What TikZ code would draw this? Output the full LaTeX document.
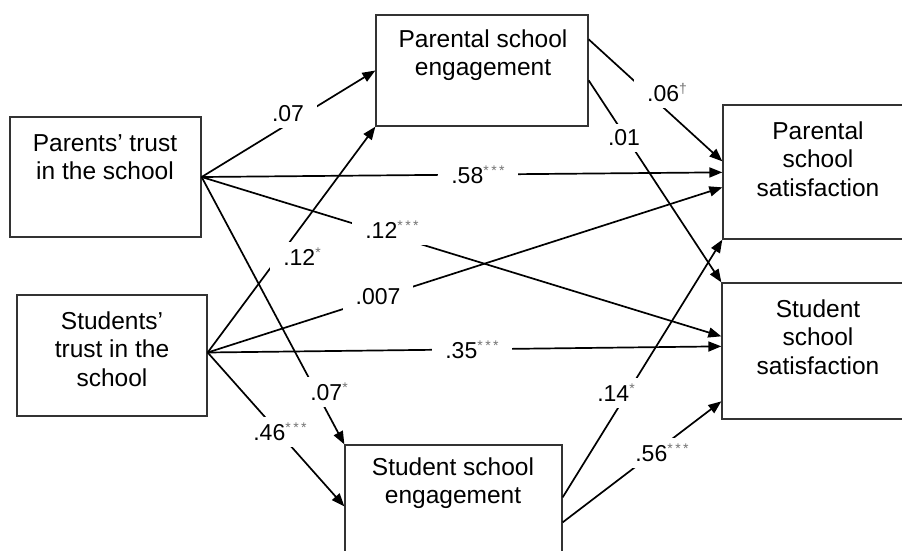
\documentclass[tikz,border=0pt]{standalone}
\usepackage{fontspec}
\setmainfont{Liberation Sans}
\usetikzlibrary{arrows.meta}
\newcommand\sigmark[1]{\raisebox{8pt}{\fontsize{14}{14}\selectfont\textcolor{black!55}{#1}}}
\newcommand\threestars{\sigmark{*\kern2.5pt*\kern2.5pt*}}
\begin{document}
\begin{tikzpicture}[x=1pt,y=-1pt,
  boxnode/.style={draw=black!80,line width=1.3pt,inner sep=0pt},
  txt/.style={align=center,font=\fontsize{24.5}{28.5}\selectfont},
  lab/.style={fill=white,inner xsep=13pt,inner ysep=6pt,font=\fontsize{23}{26}\selectfont},
  arr/.style={line width=1.7pt,-{Triangle[length=13pt,width=10pt]}}]
\useasboundingbox (0,0) rectangle (902,551);
% boxes
\node[boxnode,minimum width=191pt,minimum height=120pt] (pt) at (105.5,177) {};
\node[boxnode,minimum width=190pt,minimum height=121pt] (st) at (112,355.5) {};
\node[boxnode,minimum width=212pt,minimum height=111pt] (pse) at (482,70.5) {};
\node[boxnode,minimum width=192pt,minimum height=134pt] (pss) at (819,172) {};
\node[boxnode,minimum width=193pt,minimum height=136pt] (sss) at (818.5,351) {};
\node[boxnode,minimum width=217pt,minimum height=155pt] (sse) at (453.5,522.5) {};
% texts
\node[txt] (ptt) at (105,157) {Parents’ trust\\in the school};
\node[txt] (stt) at (112,349) {Students’\\trust in the\\school};
\node[txt] (pset) at (483,55) {Parental school\\engagement};
\node[txt] (psst) at (818,159) {Parental\\school\\satisfaction};
\node[txt] (ssst) at (818,337) {Student\\school\\satisfaction};
\node[txt] (sset) at (453,483) {Student school\\engagement};
% arrows
\draw[arr] (pt.east) -- (pse.west);
\draw[arr] (pt.east) -- ([yshift=-68pt]pss.north west);
\draw[arr] (pt.east) -- ([yshift=-54pt]sss.north west);
\draw[arr] (pt.east) -- (sse.north west);
\draw[arr] ([yshift=3pt]st.east) -- (pse.south west);
\draw[arr] ([yshift=3pt]st.east) -- ([yshift=-83pt]pss.north west);
\draw[arr] ([yshift=3pt]st.east) -- ([yshift=-64pt]sss.north west);
\draw[arr] ([yshift=3pt]st.east) -- ([yshift=-62pt]sse.north west);
\draw[arr] ([yshift=-25pt]pse.north east) -- ([yshift=-57pt]pss.north west);
\draw[arr] ([yshift=-66pt]pse.north east) -- (sss.north west);
\draw[arr] ([yshift=-53pt]sse.north east) -- (pss.south west);
\draw[arr] ([yshift=-78pt]sse.north east) -- ([yshift=-119pt]sss.north west);
% labels
\node[lab] (l1) at (288,114) {.07};
\node[lab] (l2) at (478,175) {.58\threestars};
\node[lab] (l3) at (392,230) {.12\threestars};
\node[lab] (l4) at (329,392) {.07\sigmark{*}};
\node[lab] (l5) at (302,257) {.12\sigmark{*}};
\node[lab] (l6) at (378,297) {.007};
\node[lab] (l7) at (472,350) {.35\threestars};
\node[lab] (l8) at (280,432) {.46\threestars};
\node[lab] (l9) at (667,93) {.06\sigmark{†}};
\node[lab] (l10) at (624,138) {.01};
\node[lab] (l11) at (616,393) {.14\sigmark{*}};
\node[lab] (l12) at (662,453) {.56\threestars};
\end{tikzpicture}
\end{document}
